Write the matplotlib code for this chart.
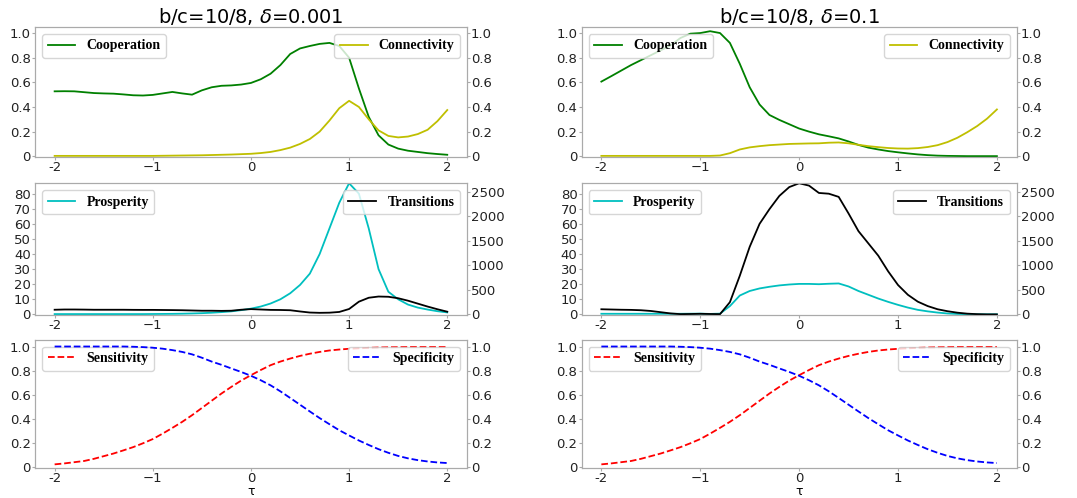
import numpy as np
import matplotlib
matplotlib.use('Agg')
import matplotlib.pyplot as plt

# tau grid (step 0.1) and curves
tau = np.round(np.arange(-20, 21) / 10, 1)

# delta = 0.001 (left column)
coop_a = [0.527, 0.528, 0.527, 0.520, 0.513, 0.510, 0.508, 0.502, 0.495, 0.493,
          0.498, 0.510, 0.522, 0.510, 0.500, 0.535, 0.560, 0.572, 0.575, 0.582,
          0.595, 0.625, 0.670, 0.740, 0.830, 0.875, 0.895, 0.912, 0.920, 0.895,
          0.800, 0.550, 0.320, 0.170, 0.095, 0.062, 0.045, 0.035, 0.025, 0.018,
          0.012]
conn_a = [0.003, 0.003, 0.003, 0.003, 0.003, 0.003, 0.003, 0.003, 0.003, 0.003,
          0.003, 0.004, 0.005, 0.006, 0.007, 0.008, 0.010, 0.012, 0.014, 0.017,
          0.020, 0.026, 0.035, 0.050, 0.070, 0.100, 0.140, 0.200, 0.290, 0.390,
          0.450, 0.400, 0.300, 0.210, 0.165, 0.153, 0.160, 0.180, 0.215, 0.285,
          0.375]
pros_a = [0.2, 0.2, 0.2, 0.2, 0.2, 0.2, 0.2, 0.2, 0.2, 0.2,
          0.25, 0.3, 0.35, 0.45, 0.6, 0.8, 1.1, 1.5, 2.0, 2.8,
          3.8, 5.2, 7.2, 10.0, 14.0, 19.5, 27.0, 40.0, 57.0, 74.0,
          86.9, 80.0, 57.0, 30.0, 15.0, 10.0, 6.5, 4.5, 3.2, 2.1,
          1.3]
trans_a = [95, 100, 100, 98, 95, 95, 95, 95, 93, 92,
           92, 90, 88, 85, 80, 75, 75, 72, 75, 95,
           108, 100, 92, 90, 85, 60, 38, 32, 35, 50,
           110, 260, 340, 365, 360, 330, 280, 220, 160, 105,
           55]

# delta = 0.1 (right column)
coop_b = [0.606, 0.650, 0.695, 0.740, 0.780, 0.820, 0.860, 0.900, 0.960, 0.995,
          1.000, 1.015, 1.000, 0.920, 0.750, 0.560, 0.420, 0.335, 0.295, 0.260,
          0.225, 0.200, 0.178, 0.162, 0.145, 0.120, 0.092, 0.070, 0.055, 0.042,
          0.032, 0.023, 0.015, 0.009, 0.005, 0.003, 0.002, 0.001, 0.001, 0.001,
          0.001]
conn_b = [0.003, 0.003, 0.003, 0.003, 0.003, 0.003, 0.003, 0.003, 0.003, 0.003,
          0.003, 0.003, 0.006, 0.025, 0.055, 0.072, 0.082, 0.090, 0.095, 0.100,
          0.102, 0.104, 0.105, 0.110, 0.112, 0.105, 0.093, 0.082, 0.074, 0.067,
          0.063, 0.062, 0.066, 0.075, 0.090, 0.115, 0.150, 0.195, 0.245, 0.305,
          0.380]
pros_b = [0.4, 0.4, 0.4, 0.4, 0.4, 0.4, 0.4, 0.4, 0.4, 0.45,
          0.5, 0.3, 0.5, 5.5, 12.5, 15.5, 17.2, 18.3, 19.2, 19.8,
          20.2, 20.2, 20.0, 20.3, 20.5, 18.5, 15.5, 13.0, 10.5, 8.3,
          6.3, 4.5, 3.0, 2.0, 1.2, 0.6, 0.3, 0.1, 0.05, 0.05,
          0.05]
trans_b = [105, 100, 95, 92, 85, 70, 45, 20, 5, 8,
           12, 8, 5, 250, 790, 1380, 1850, 2150, 2420, 2600,
           2678, 2630, 2480, 2465, 2400, 2060, 1700, 1450, 1200, 880,
           600, 400, 260, 170, 105, 65, 35, 15, 5, 0,
           0]

# same in both columns
sens = [0.022, 0.030, 0.040, 0.050, 0.068, 0.090, 0.112, 0.138, 0.165, 0.197,
        0.232, 0.277, 0.325, 0.375, 0.430, 0.490, 0.550, 0.610, 0.665, 0.717,
        0.762, 0.805, 0.845, 0.875, 0.900, 0.922, 0.940, 0.955, 0.967, 0.975,
        0.981, 0.985, 0.989, 0.992, 0.994, 0.995, 0.996, 0.996, 0.996, 0.996,
        0.996]
spec = [1.000, 1.000, 1.000, 1.000, 1.000, 1.000, 1.000, 1.000, 0.998, 0.995,
        0.990, 0.982, 0.970, 0.955, 0.935, 0.907, 0.875, 0.848, 0.818, 0.789,
        0.757, 0.720, 0.678, 0.628, 0.573, 0.517, 0.461, 0.406, 0.355, 0.305,
        0.262, 0.220, 0.183, 0.148, 0.118, 0.092, 0.072, 0.057, 0.046, 0.038,
        0.033]

titles = ['b/c=10/8, $\\delta$=0.001', 'b/c=10/8, $\\delta$=0.1']
xticks = [-2, -1, 0, 1, 2]
xticklabels = ['-2', '\u22121', '0', '1', '2']
unit_ticks = [0, 0.2, 0.4, 0.6, 0.8, 1.0]
unit_labels = ['0', '0.2', '0.4', '0.6', '0.8', '1.0']
pros_ticks = [0, 10, 20, 30, 40, 50, 60, 70, 80]
trans_ticks = [0, 500, 1000, 1500, 2000, 2500]

legend_font = {'family': 'Liberation Serif', 'weight': 'bold', 'size': 10}
spine_col = '#aaaaaa'
tick_col = '#222222'

fig = plt.figure(figsize=(10.77, 4.98), dpi=100)

col_x = [0.0325, 0.540]
col_w = [0.401, 0.404]
row_y = [0.685, 0.3675, 0.061]
row_h = [0.261, 0.2645, 0.257]


def style(ax):
    ax.set_xlim(-2.2, 2.2)
    ax.set_xticks(xticks)
    ax.set_xticklabels(xticklabels)
    for s in ax.spines.values():
        s.set_color(spine_col)
    ax.tick_params(labelsize=9.5, colors=tick_col, length=2, width=0.8, pad=1)
    ax.tick_params(color=spine_col)


columns = [(coop_a, conn_a, pros_a, trans_a), (coop_b, conn_b, pros_b, trans_b)]

for c, (coop, conn, pros, trans) in enumerate(columns):
    # row 1: cooperation / connectivity
    ax = fig.add_axes([col_x[c], row_y[0], col_w[c], row_h[0]])
    ax2 = ax.twinx()
    ax.plot(tau, coop, color='green', lw=1.3, label='Cooperation')
    ax2.plot(tau, conn, color='y', lw=1.3, label='Connectivity')
    for a in (ax, ax2):
        a.set_ylim(-0.005, 1.05)
        a.set_yticks(unit_ticks)
        a.set_yticklabels(unit_labels)
        style(a)
    ax.legend(loc='upper left', prop=legend_font)
    ax2.legend(loc='upper right', prop=legend_font)
    ax.set_title(titles[c], fontsize=14, pad=2)

    # row 2: prosperity / transitions
    ax = fig.add_axes([col_x[c], row_y[1], col_w[c], row_h[1]])
    ax2 = ax.twinx()
    ax.plot(tau, pros, color='c', lw=1.3, label='Prosperity')
    ax2.plot(tau, trans, color='k', lw=1.3, label='Transitions')
    ax.set_ylim(-0.4, 86.9)
    ax2.set_ylim(-12, 2678)
    ax.set_yticks(pros_ticks)
    ax2.set_yticks(trans_ticks)
    style(ax)
    style(ax2)
    ax.legend(loc='upper left', prop=legend_font)
    ax2.legend(loc='upper right', prop=legend_font)

    # row 3: sensitivity / specificity
    ax = fig.add_axes([col_x[c], row_y[2], col_w[c], row_h[2]])
    ax2 = ax.twinx()
    ax.plot(tau, sens, color='r', ls='--', lw=1.3, label='Sensitivity')
    ax2.plot(tau, spec, color='b', ls='--', lw=1.3, label='Specificity')
    for a in (ax, ax2):
        a.set_ylim(-0.005, 1.057)
        a.set_yticks(unit_ticks)
        a.set_yticklabels(unit_labels)
        style(a)
    ax.legend(loc='upper left', prop=legend_font)
    ax2.legend(loc='upper right', prop=legend_font)
    ax.set_xlabel('\u03c4', fontsize=9, labelpad=0)

fig.savefig('out.png', dpi=100)
